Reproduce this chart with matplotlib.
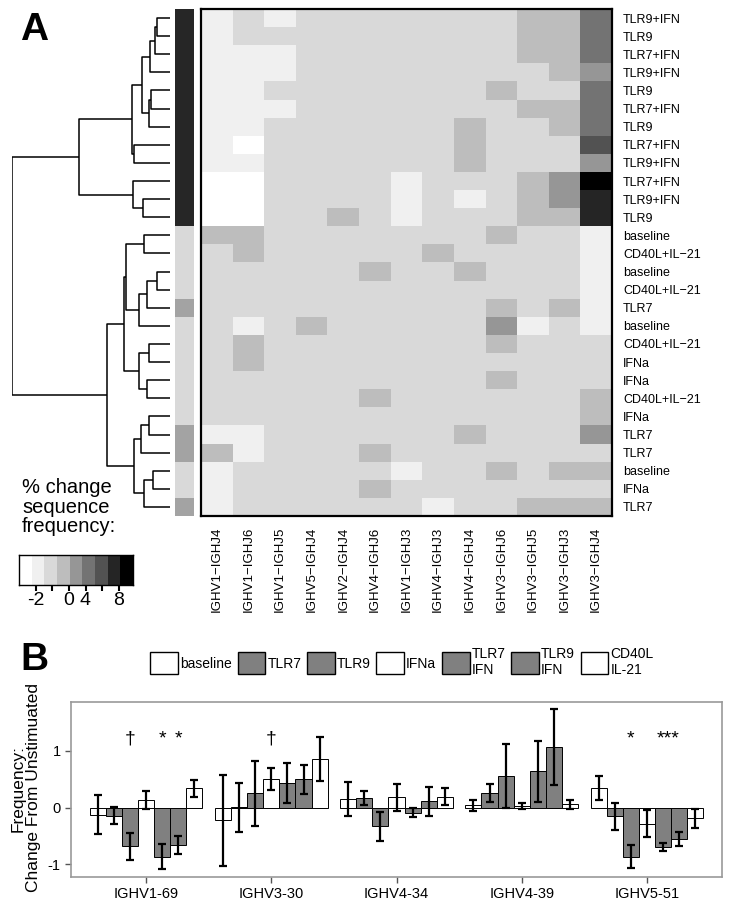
import numpy as np
import matplotlib
matplotlib.use('Agg')
import matplotlib.pyplot as plt
from matplotlib.colors import ListedColormap, BoundaryNorm, to_rgb
from matplotlib.patches import Patch

plt.rcParams['font.family'] = ['Liberation Sans', 'DejaVu Sans']

# ---------------- Panel A data ----------------
col_labels = ['IGHV1\u2212IGHJ4', 'IGHV1\u2212IGHJ6', 'IGHV1\u2212IGHJ5', 'IGHV5\u2212IGHJ4',
              'IGHV2\u2212IGHJ4', 'IGHV4\u2212IGHJ6', 'IGHV1\u2212IGHJ3', 'IGHV4\u2212IGHJ3',
              'IGHV4\u2212IGHJ4', 'IGHV3\u2212IGHJ6', 'IGHV3\u2212IGHJ5', 'IGHV3\u2212IGHJ3',
              'IGHV3\u2212IGHJ4']
row_labels = ['TLR9+IFN', 'TLR9', 'TLR7+IFN', 'TLR9+IFN', 'TLR9', 'TLR7+IFN', 'TLR9',
              'TLR7+IFN', 'TLR9+IFN', 'TLR7+IFN', 'TLR9+IFN', 'TLR9', 'baseline',
              'CD40L+IL\u221221', 'baseline', 'CD40L+IL\u221221', 'TLR7', 'baseline',
              'CD40L+IL\u221221', 'IFNa', 'IFNa', 'CD40L+IL\u221221', 'IFNa', 'TLR7', 'TLR7',
              'baseline', 'IFNa', 'TLR7']

# colour bin of each cell (0 = white ... 8 = black)
level = np.array([
    [1, 2, 1, 2, 2, 2, 2, 2, 2, 2, 3, 3, 5],
    [1, 2, 2, 2, 2, 2, 2, 2, 2, 2, 3, 3, 5],
    [1, 1, 1, 2, 2, 2, 2, 2, 2, 2, 3, 3, 5],
    [1, 1, 1, 2, 2, 2, 2, 2, 2, 2, 2, 3, 4],
    [1, 1, 2, 2, 2, 2, 2, 2, 2, 3, 2, 2, 5],
    [1, 1, 1, 2, 2, 2, 2, 2, 2, 2, 3, 3, 5],
    [1, 1, 2, 2, 2, 2, 2, 2, 3, 2, 2, 3, 5],
    [1, 0, 2, 2, 2, 2, 2, 2, 3, 2, 2, 2, 6],
    [1, 1, 2, 2, 2, 2, 2, 2, 3, 2, 2, 2, 4],
    [0, 0, 2, 2, 2, 2, 1, 2, 2, 2, 3, 4, 8],
    [0, 0, 2, 2, 2, 2, 1, 2, 1, 2, 3, 4, 7],
    [0, 0, 2, 2, 3, 2, 1, 2, 2, 2, 3, 3, 7],
    [3, 3, 2, 2, 2, 2, 2, 2, 2, 3, 2, 2, 1],
    [2, 3, 2, 2, 2, 2, 2, 3, 2, 2, 2, 2, 1],
    [2, 2, 2, 2, 2, 3, 2, 2, 3, 2, 2, 2, 1],
    [2, 2, 2, 2, 2, 2, 2, 2, 2, 2, 2, 2, 1],
    [2, 2, 2, 2, 2, 2, 2, 2, 2, 3, 2, 3, 1],
    [2, 1, 2, 3, 2, 2, 2, 2, 2, 4, 1, 2, 1],
    [2, 3, 2, 2, 2, 2, 2, 2, 2, 3, 2, 2, 2],
    [2, 3, 2, 2, 2, 2, 2, 2, 2, 2, 2, 2, 2],
    [2, 2, 2, 2, 2, 2, 2, 2, 2, 3, 2, 2, 2],
    [2, 2, 2, 2, 2, 3, 2, 2, 2, 2, 2, 2, 3],
    [2, 2, 2, 2, 2, 2, 2, 2, 2, 2, 2, 2, 3],
    [1, 1, 2, 2, 2, 2, 2, 2, 3, 2, 2, 2, 4],
    [3, 1, 2, 2, 2, 3, 2, 2, 2, 2, 2, 2, 2],
    [1, 2, 2, 2, 2, 2, 1, 2, 2, 3, 2, 3, 3],
    [1, 2, 2, 2, 2, 3, 2, 2, 2, 2, 2, 2, 2],
    [1, 2, 2, 2, 2, 2, 2, 1, 2, 2, 3, 3, 3],
])

# dendrogram merges: (left node, right node, height); new nodes numbered from 28
merges = [
    (0, 1, 13.3), (28, 2, 15.0), (29, 3, 20.0), (4, 5, 19.3), (31, 6, 20.7),
    (30, 32, 27.7), (7, 8, 36.0), (33, 34, 38.3), (10, 11, 26.7), (9, 36, 37.3),
    (35, 37, 91.3), (12, 13, 25.7), (14, 15, 13.3), (40, 16, 23.3), (41, 17, 30.7),
    (39, 42, 44.0), (18, 19, 20.7), (20, 21, 23.3), (44, 45, 31.0), (43, 46, 45.7),
    (22, 23, 20.7), (48, 24, 29.3), (25, 26, 17.3), (50, 27, 25.7), (49, 51, 35.7),
    (47, 52, 62.7), (38, 53, 158.0),
]

greys = ['#ffffff', '#f0f0f0', '#d9d9d9', '#bdbdbd', '#969696',
         '#737373', '#525252', '#252525', '#000000']
side_colors = {'TLR9+IFN': '#262626', 'TLR7+IFN': '#262626', 'TLR9': '#262626',
               'TLR7': '#a3a3a3'}
cbar_ticks = [1.31, 2.62, 3.94, 5.25, 6.56, 7.87]
cbar_ticklabels = ['-2', '', '0', '4', '', '8']

# ---------------- Panel B data ----------------
genes = ['IGHV1-69', 'IGHV3-30', 'IGHV4-34', 'IGHV4-39', 'IGHV5-51']
conditions = ['baseline', 'TLR7', 'TLR9', 'IFNa', 'TLR7\nIFN', 'TLR9\nIFN', 'CD40L\nIL-21']
cond_colors = ['white', '#808080', '#808080', 'white', '#808080', '#808080', 'white']
baseline = [-0.12, -0.22, 0.16, 0.04, 0.35]
tlr7 = [-0.14, 0.01, 0.17, 0.26, -0.15]
tlr9 = [-0.68, 0.25, -0.33, 0.56, -0.86]
ifna = [0.13, 0.51, 0.18, 0.03, -0.28]
tlr7_ifn = [-0.86, 0.44, -0.09, 0.64, -0.69]
tlr9_ifn = [-0.66, 0.50, 0.11, 1.07, -0.55]
cd40l = [0.34, 0.86, 0.19, 0.06, -0.19]
baseline_err = [0.35, 0.80, 0.30, 0.10, 0.21]
tlr7_err = [0.15, 0.43, 0.13, 0.16, 0.24]
tlr9_err = [0.24, 0.58, 0.25, 0.56, 0.21]
ifna_err = [0.16, 0.19, 0.23, 0.06, 0.24]
tlr7_ifn_err = [0.22, 0.35, 0.08, 0.54, 0.07]
tlr9_ifn_err = [0.16, 0.26, 0.25, 0.67, 0.12]
cd40l_err = [0.15, 0.39, 0.15, 0.08, 0.17]
# significance marks: (gene index, bar position, symbol)
marks = [(0, 2, '\u2020'), (0, 4, '*'), (0, 5, '*'), (1, 3, '\u2020'),
         (4, 2, '*'), (4, 4.3, '***')]

values = [baseline, tlr7, tlr9, ifna, tlr7_ifn, tlr9_ifn, cd40l]
errors = [baseline_err, tlr7_err, tlr9_err, ifna_err, tlr7_ifn_err, tlr9_ifn_err, cd40l_err]

# ---------------- Figure ----------------
W, H = 733, 906
fig = plt.figure(figsize=(W / 100, H / 100), dpi=100)

def px_axes(x0, y0, x1, y1):
    # axes from pixel box (top-left origin)
    return fig.add_axes([x0 / W, 1 - y1 / H, (x1 - x0) / W, (y1 - y0) / H])

n_rows, n_cols = level.shape

# Heatmap
ax_h = px_axes(201, 9, 612, 516)
cmap = ListedColormap(greys)
norm = BoundaryNorm(np.arange(-0.5, 9.5, 1), cmap.N)
ax_h.imshow(level, cmap=cmap, norm=norm, aspect='auto', interpolation='nearest',
            extent=(0, n_cols, n_rows, 0))
ax_h.set_xticks(np.arange(n_cols) + 0.5)
ax_h.set_xticklabels(col_labels, rotation=90, fontsize=9.5, va='top')
ax_h.set_yticks(np.arange(n_rows) + 0.5)
ax_h.set_yticklabels(row_labels, fontsize=9)
ax_h.yaxis.tick_right()
ax_h.tick_params(length=0, pad=8)
for s in ax_h.spines.values():
    s.set_linewidth(1.6)

# Side colour bar
ax_s = px_axes(175, 9, 193, 516)
side_rgb = np.array([[to_rgb(side_colors.get(lab, '#d9d9d9'))] for lab in row_labels])
ax_s.imshow(side_rgb, aspect='auto', interpolation='nearest', extent=(0, 1, n_rows, 0))
ax_s.axis('off')

# Dendrogram
ax_d = px_axes(12, 9, 170, 516)
ypos = {i: i + 0.5 for i in range(n_rows)}
hgt = {i: 0.0 for i in range(n_rows)}
for k, (a, b, h) in enumerate(merges):
    node = n_rows + k
    ax_d.plot([hgt[a], h, h, hgt[b]], [ypos[a], ypos[a], ypos[b], ypos[b]],
              color='black', lw=1.1, solid_capstyle='butt')
    ypos[node] = (ypos[a] + ypos[b]) / 2
    hgt[node] = h
ax_d.set_xlim(158.5, 0)
ax_d.set_ylim(n_rows, 0)
ax_d.axis('off')

# Colour key
fig.text(22 / W, 1 - 478 / H, '% change\nsequence\nfrequency:', fontsize=14.5,
         va='top', ha='left', linespacing=1.05)
ax_c = px_axes(19, 555, 133, 585)
ax_c.imshow(np.arange(9).reshape(1, -1), cmap=cmap, norm=norm, aspect='auto',
            extent=(0, 9, 0, 1))
ax_c.set_yticks([])
ax_c.set_xticks(cbar_ticks)
ax_c.set_xticklabels(cbar_ticklabels, fontsize=14)
ax_c.tick_params(axis='x', length=4, width=1.5, pad=1)
for s in ax_c.spines.values():
    s.set_linewidth(1.0)

fig.text(20 / W, 1 - 30 / H, 'A', fontsize=28, fontweight='bold', va='center')
fig.text(20 / W, 1 - 660 / H, 'B', fontsize=28, fontweight='bold', va='center')

# ---------------- Panel B ----------------
ax_b = px_axes(71, 702, 722, 877)
x = np.arange(len(genes))
width = 0.9 / len(conditions)
for k in range(len(conditions)):
    ax_b.bar(x + (k - 3) * width, values[k], width, yerr=errors[k],
             color=cond_colors[k], edgecolor='black', linewidth=0.7,
             error_kw=dict(elinewidth=1.6, capsize=3.2, capthick=1.6, ecolor='black'))
for g, pos, sym in marks:
    ax_b.text(g + (pos - 3) * width, 1.13, sym, ha='center', va='baseline', fontsize=14)
ax_b.set_xlim(-0.6, 4.6)
ax_b.set_ylim(-1.22, 1.86)
ax_b.set_xticks(x)
ax_b.set_xticklabels(genes, fontsize=10.5)
ax_b.set_yticks([-1, 0, 1])
ax_b.set_yticklabels(['-1', '0', '1'], fontsize=10.5)
ax_b.tick_params(length=4, color='#555555', width=1)
for s in ax_b.spines.values():
    s.set_color('#999999')
    s.set_linewidth(1.2)
fig.text(26 / W, 1 - 788 / H, 'Frequency:\nChange From Unstimuated', rotation=90,
         fontsize=12.5, ha='center', va='center', linespacing=1.05)

handles = [Patch(facecolor=c, edgecolor='black', linewidth=1) for c in cond_colors]
fig.legend(handles, conditions, loc='center', bbox_to_anchor=(402 / W, 1 - 662 / H),
           ncol=7, frameon=False, fontsize=10, handlelength=2.0, handleheight=2.1,
           handletextpad=0.15, columnspacing=0.4, borderpad=0, labelspacing=0)

plt.savefig('out.png', dpi=100)
